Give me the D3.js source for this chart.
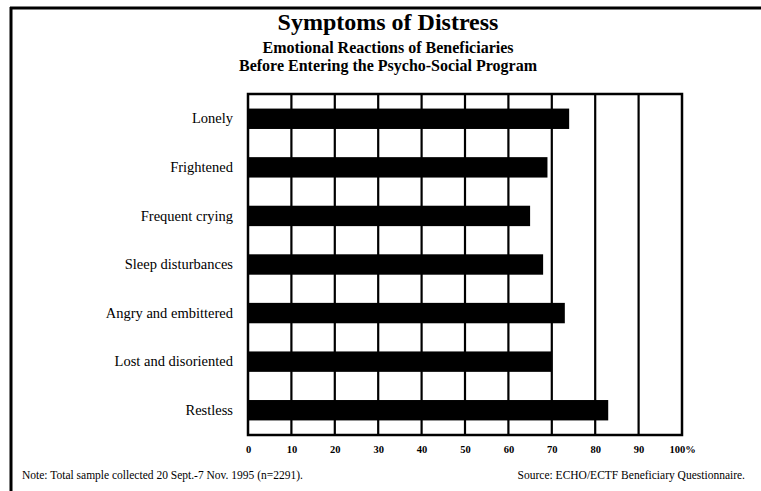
<!DOCTYPE html>
<html lang="en">
<head>
  <meta charset="utf-8" />
  <title>Symptoms of Distress</title>
  <script src="https://cdnjs.cloudflare.com/ajax/libs/d3/7.8.5/d3.min.js"></script>
  <style>
    body { margin: 0; background: #fff; }
    svg text { font-family: "Liberation Serif", "DejaVu Serif", serif; fill: #000; }
  </style>
</head>
<body>
<svg id="chart" width="761" height="491"></svg>
<script>
  // data (percent of beneficiaries)
  const categories = ["Lonely", "Frightened", "Frequent crying", "Sleep disturbances",
    "Angry and embittered", "Lost and disoriented", "Restless"];
  const values = [74, 69, 65, 68, 73, 70, 83];
  const ticks = [0, 10, 20, 30, 40, 50, 60, 70, 80, 90, 100];

  const svg = d3.select("#chart");
  const margin = { top: 94, right: 79, bottom: 56, left: 248 };
  const width = +svg.attr("width") - margin.left - margin.right;
  const height = +svg.attr("height") - margin.top - margin.bottom;

  // outer frame: top and left only
  svg.append("line").attr("x1", 10).attr("x2", 761).attr("y1", 8).attr("y2", 8)
    .attr("stroke", "#000").attr("stroke-width", 3);
  svg.append("line").attr("x1", 11).attr("x2", 11).attr("y1", 7).attr("y2", 491)
    .attr("stroke", "#000").attr("stroke-width", 3);

  svg.append("text").attr("x", 388).attr("y", 30).attr("text-anchor", "middle")
    .style("font-size", "24px").style("font-weight", "bold").text("Symptoms of Distress");
  svg.append("text").attr("x", 388).attr("y", 53).attr("text-anchor", "middle")
    .style("font-size", "16px").style("font-weight", "bold").text("Emotional Reactions of Beneficiaries");
  svg.append("text").attr("x", 388).attr("y", 71).attr("text-anchor", "middle")
    .style("font-size", "16px").style("font-weight", "bold").text("Before Entering the Psycho-Social Program");

  const g = svg.append("g").attr("transform", "translate(" + margin.left + "," + margin.top + ")");

  const x = d3.scaleLinear().domain([0, 100]).range([0, width]);
  const y = d3.scaleBand().domain(categories).range([0, height]).paddingInner(0.58).paddingOuter(0.3);

  // vertical grid
  g.selectAll("line.grid").data(ticks.slice(1, -1)).enter().append("line")
    .attr("class", "grid")
    .attr("x1", d => x(d)).attr("x2", d => x(d))
    .attr("y1", 0).attr("y2", height)
    .attr("stroke", "#000").attr("stroke-width", 2.2);

  g.selectAll("rect.bar").data(values).enter().append("rect")
    .attr("class", "bar")
    .attr("x", 0)
    .attr("y", (d, i) => y(categories[i]))
    .attr("width", d => x(d))
    .attr("height", y.bandwidth())
    .attr("fill", "#000");

  g.append("rect").attr("x", 0).attr("y", 0).attr("width", width).attr("height", height)
    .attr("fill", "none").attr("stroke", "#000").attr("stroke-width", 2.5);

  // category labels
  g.append("g").selectAll("text").data(categories).enter().append("text")
    .attr("x", -15)
    .attr("y", d => y(d) + y.bandwidth() / 2)
    .attr("dy", "0.32em")
    .attr("text-anchor", "end")
    .style("font-size", "14.5px")
    .text(d => d);

  // x tick labels
  const xAxis = d3.axisBottom(x).tickValues(ticks).tickSize(0).tickPadding(0)
    .tickFormat(d => d === 100 ? "100%" : d);
  const ax = g.append("g").attr("transform", "translate(0," + (height + 15) + ")").call(xAxis);
  ax.select(".domain").remove();
  ax.selectAll("text").attr("dy", "0.3em")
    .style("font-family", '"Liberation Serif", serif').style("font-size", "10.5px")
    .style("font-weight", "bold");

  svg.append("text").attr("x", 22).attr("y", 479).style("font-size", "11.5px")
    .text("Note: Total sample collected 20 Sept.-7 Nov. 1995 (n=2291).");
  svg.append("text").attr("x", 745).attr("y", 479).attr("text-anchor", "end").style("font-size", "11.5px")
    .text("Source: ECHO/ECTF Beneficiary Questionnaire.");
</script>
</body>
</html>
